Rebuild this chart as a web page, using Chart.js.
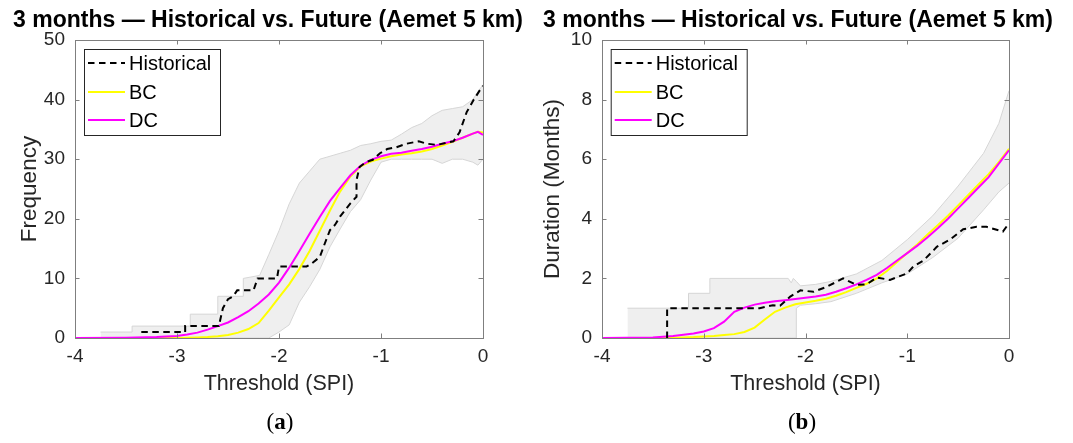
<!DOCTYPE html>
<html>
<head>
<meta charset="utf-8">
<script src="https://cdn.jsdelivr.net/npm/chart.js@4.4.1/dist/chart.umd.min.js"></script>
<style>
  body { margin: 0; background: #fff; width: 1073px; height: 443px; overflow: hidden; position: relative; }
  canvas { position: absolute; top: 0; }
  #chartA { left: 0; }
  #chartB { left: 536px; }
</style>
</head>
<body>
<canvas id="chartA" width="536" height="443"></canvas>
<canvas id="chartB" width="537" height="443"></canvas>
<script>
// ---- datos panel (a): frecuencia ----
const curveXA = [-4, -3.5, -3.2, -3.0, -2.9, -2.8, -2.7, -2.6, -2.5, -2.4, -2.3, -2.2, -2.1, -2.0, -1.9, -1.8, -1.7, -1.6, -1.5, -1.4, -1.3, -1.2, -1.1, -1.0, -0.9, -0.8, -0.7, -0.6, -0.5, -0.4, -0.3, -0.2, -0.1, -0.05, 0];
const dcA = [0, 0.05, 0.15, 0.35, 0.6, 0.9, 1.4, 2.0, 2.6, 3.5, 4.5, 5.8, 7.3, 9.3, 11.8, 14.6, 17.5, 20.3, 23.0, 25.2, 27.3, 28.9, 29.9, 30.5, 30.9, 31.1, 31.4, 31.7, 32.1, 32.6, 33.0, 33.6, 34.3, 34.6, 34.1];
const bcA = [0, 0, 0, 0.02, 0.05, 0.1, 0.15, 0.3, 0.5, 0.9, 1.5, 2.5, 4.6, 6.8, 9.0, 11.6, 14.6, 18.0, 21.4, 24.6, 27.1, 28.8, 29.6, 30.1, 30.5, 30.8, 31.0, 31.3, 31.7, 32.3, 32.9, 33.6, 34.3, 34.6, 34.5];
const histXA = [-3.35, -2.92, -2.92, -2.59, -2.55, -2.5, -2.45, -2.41, -2.25, -2.21, -2.02, -2.0, -1.73, -1.68, -1.6, -1.55, -1.5, -1.45, -1.4, -1.35, -1.3, -1.24, -1.24, -1.21, -1.15, -1.08, -1.01, -0.94, -0.85, -0.75, -0.63, -0.55, -0.45, -0.35, -0.29, -0.23, -0.16, -0.09, -0.03, 0];
const histYA = [1, 1, 2, 2, 5, 6.5, 7, 8, 8, 10, 10, 12, 12, 12.5, 13.6, 15.9, 18.1, 19, 20.4, 21.5, 22.6, 23.7, 26.5, 28.7, 29.5, 29.9, 31, 31.7, 32, 32.6, 33, 32.6, 32.4, 32.8, 33, 34.5, 37.9, 40, 41.6, 42.3];
const bandXA = [-3.75, -3.44, -3.44, -2.87, -2.87, -2.6, -2.6, -2.35, -2.35, -2.19, -2.1, -2.0, -1.9, -1.8, -1.7, -1.6, -1.5, -1.4, -1.3, -1.2, -1.1, -1.0, -0.9, -0.8, -0.7, -0.6, -0.5, -0.4, -0.3, -0.2, -0.1, -0.05, 0];
const bandHiA = [1, 1, 2, 2, 4, 4, 7, 7, 10, 10.5, 14, 18, 22.5, 26, 28, 30, 30.5, 31, 31.5, 32.3, 32.6, 33, 33.2, 34.2, 35.3, 36, 37.3, 38.2, 38.5, 38.8, 40, 41.3, 42.5];
const bandLoA = [0, 0, 0, 0, 0, 0, 0, 0, 0, 0, 0, 1.0, 2.2, 6.0, 8.6, 11.5, 15.3, 18.3, 21.2, 23.2, 26.5, 29.5, 30, 30, 30, 30, 30, 29.3, 30, 30, 29.5, 29, 30];
const yTicksA = [0, 10, 20, 30, 40, 50];

// ---- datos panel (b): duración ----
const curveXB = [-4, -3.5, -3.3, -3.2, -3.1, -3.0, -2.9, -2.8, -2.7, -2.6, -2.5, -2.4, -2.3, -2.2, -2.1, -2.0, -1.9, -1.8, -1.7, -1.6, -1.5, -1.4, -1.3, -1.2, -1.1, -1.0, -0.9, -0.8, -0.7, -0.6, -0.5, -0.4, -0.3, -0.2, -0.1, 0];
const dcB = [0, 0.02, 0.07, 0.11, 0.15, 0.22, 0.33, 0.55, 0.88, 1.02, 1.12, 1.18, 1.23, 1.27, 1.31, 1.35, 1.39, 1.45, 1.55, 1.67, 1.8, 1.95, 2.12, 2.35, 2.6, 2.85, 3.1, 3.38, 3.68, 4.0, 4.35, 4.7, 5.05, 5.4, 5.85, 6.3];
const bcB = [0, 0, 0.01, 0.02, 0.03, 0.05, 0.07, 0.1, 0.13, 0.2, 0.35, 0.62, 0.88, 1.02, 1.13, 1.19, 1.25, 1.32, 1.42, 1.54, 1.68, 1.82, 2.0, 2.25, 2.55, 2.85, 3.15, 3.47, 3.78, 4.1, 4.45, 4.8, 5.15, 5.5, 5.9, 6.35];
const histXB = [-3.36, -3.36, -2.45, -2.32, -2.25, -2.15, -2.05, -1.92, -1.79, -1.63, -1.5, -1.4, -1.3, -1.17, -1.0, -0.94, -0.84, -0.74, -0.71, -0.58, -0.45, -0.32, -0.22, -0.09, -0.06, 0];
const histYB = [0, 1.0, 1.0, 1.1, 1.08, 1.39, 1.6, 1.55, 1.72, 2.0, 1.78, 1.8, 2.03, 1.95, 2.17, 2.4, 2.6, 2.95, 3.06, 3.3, 3.65, 3.73, 3.73, 3.6, 3.57, 3.85];
const bandXB = [-3.75, -3.15, -3.15, -2.94, -2.94, -2.17, -2.14, -2.12, -2.09, -2.09, -2.05, -1.9, -1.75, -1.5, -1.25, -1.0, -0.75, -0.5, -0.25, -0.1, 0];
const bandHiB = [1, 1, 1.5, 1.5, 2, 2, 1.85, 2.0, 1.9, 1.9, 1.75, 1.8, 1.9, 2.15, 2.6, 3.3, 4.1, 5.1, 6.2, 7.2, 8.3];
const bandLoB = [0, 0, 0, 0, 0, 0, 0, 0, 0, 1.0, 1.1, 1.15, 1.22, 1.5, 1.85, 2.15, 2.7, 3.35, 4.3, 4.9, 5.2];
const yTicksB = [0, 2, 4, 6, 8, 10];

const xTicks = [-4, -3, -2, -1, 0];
const chartTitle = '3 months \u2014 Historical vs. Future (Aemet 5 km)';
const SANS = '"Liberation Sans", Arial, Helvetica, sans-serif';
const SERIF = '"Liberation Serif", "Times New Roman", serif';

function pts(xs, ys) {
    return xs.map((x, i) => ({ x: x, y: ys[i] }));
}

// Dibuja caja, marcas internas, título, leyenda y etiqueta del panel
const marcoPlugin = {
    id: 'marco',
    afterDatasetsDraw(chart, args, opts) {
        const { ctx, chartArea: a, scales } = chart;
        ctx.save();

        // marcas hacia dentro
        ctx.strokeStyle = '#7f7f7f';
        ctx.lineWidth = 1;
        const tl = 4.5;
        ctx.beginPath();
        scales.x.ticks.forEach(t => {
            const px = Math.round(scales.x.getPixelForValue(t.value)) + 0.5;
            ctx.moveTo(px, a.bottom); ctx.lineTo(px, a.bottom - tl);
            ctx.moveTo(px, a.top); ctx.lineTo(px, a.top + tl);
        });
        scales.y.ticks.forEach(t => {
            const py = Math.round(scales.y.getPixelForValue(t.value)) + 0.5;
            ctx.moveTo(a.left, py); ctx.lineTo(a.left + tl, py);
            ctx.moveTo(a.right, py); ctx.lineTo(a.right - tl, py);
        });
        ctx.stroke();
        ctx.strokeRect(a.left + 0.5, a.top + 0.5, a.right - a.left, a.bottom - a.top);

        // título
        ctx.fillStyle = '#000';
        ctx.font = 'bold 23px ' + SANS;
        ctx.textAlign = 'center';
        ctx.textBaseline = 'middle';
        ctx.fillText(opts.title, opts.titleX, 21);

        // leyenda
        const items = chart.data.datasets.filter(d => !d.isBand);
        const bx = a.left + opts.legendDx, by = a.top + 9, bw = 136, bh = 86;
        ctx.fillStyle = '#fff';
        ctx.fillRect(bx, by, bw, bh);
        ctx.strokeStyle = '#262626';
        ctx.strokeRect(bx + 0.5, by + 0.5, bw, bh);
        const rows = [14, 43, 71];
        ctx.font = '20px ' + SANS;
        ctx.textAlign = 'left';
        items.forEach((d, i) => {
            const y = by + rows[i];
            ctx.strokeStyle = d.borderColor;
            ctx.lineWidth = d.borderWidth;
            ctx.setLineDash(d.borderDash || []);
            ctx.beginPath();
            ctx.moveTo(bx + 4, y); ctx.lineTo(bx + 41, y);
            ctx.stroke();
            ctx.setLineDash([]);
            ctx.fillStyle = '#000';
            ctx.fillText(d.label, bx + 45, y + 1);
        });

        // etiqueta (a)/(b)
        const y = 423;
        ctx.font = '23px ' + SERIF;
        const wOpen = ctx.measureText('(').width;
        const wClose = ctx.measureText(')').width;
        ctx.font = 'bold 23px ' + SERIF;
        const wMid = ctx.measureText(opts.tag).width;
        let x = opts.tagX - (wOpen + wMid + wClose) / 2;
        ctx.fillStyle = '#000';
        ctx.font = '23px ' + SERIF;
        ctx.fillText('(', x, y);
        ctx.font = 'bold 23px ' + SERIF;
        ctx.fillText(opts.tag, x + wOpen, y);
        ctx.font = '23px ' + SERIF;
        ctx.fillText(')', x + wOpen + wMid, y);

        ctx.restore();
    }
};

function crearPanel(canvasId, cfg) {
    const datasets = [
        { label: 'upper', isBand: true, data: pts(cfg.bandX, cfg.bandHi), borderColor: '#d6d6d6', borderWidth: 1, backgroundColor: '#efefef', fill: '+1', pointRadius: 0, order: 10 },
        { label: 'lower', isBand: true, data: pts(cfg.bandX, cfg.bandLo), borderColor: '#d6d6d6', borderWidth: 1, fill: false, pointRadius: 0, order: 9 },
        { label: 'Historical', data: pts(cfg.histX, cfg.histY), borderColor: '#000000', borderWidth: 2, borderDash: [6.5, 4.5], fill: false, pointRadius: 0, order: 1, clip: 4 },
        { label: 'BC', data: pts(cfg.curveX, cfg.bc), borderColor: '#ffff00', borderWidth: 2, fill: false, pointRadius: 0, order: 3, clip: 4 },
        { label: 'DC', data: pts(cfg.curveX, cfg.dc), borderColor: '#ff00ff', borderWidth: 2, fill: false, pointRadius: 0, order: 2, clip: 4 }
    ];

    new Chart(document.getElementById(canvasId), {
        type: 'line',
        data: { datasets },
        options: {
            responsive: false,
            animation: false,
            devicePixelRatio: 1,
            layout: { padding: { top: 40, right: cfg.padRight, left: 0, bottom: 0 } },
            elements: { line: { tension: 0 } },
            plugins: {
                legend: { display: false },
                tooltip: { enabled: false },
                marco: { title: chartTitle, titleX: cfg.titleX, legendDx: cfg.legendDx, tag: cfg.tag, tagX: cfg.tagX }
            },
            scales: {
                x: {
                    type: 'linear', min: -4, max: 0,
                    afterBuildTicks: s => { s.ticks = xTicks.map(v => ({ value: v })); },
                    ticks: { color: '#262626', font: { family: SANS, size: 19 }, padding: 7 },
                    grid: { display: false, drawTicks: false },
                    border: { display: false },
                    title: { display: true, text: 'Threshold (SPI)', color: '#262626', font: { family: SANS, size: 21.5 }, padding: { top: 0, bottom: 46 } },
                    afterFit: s => { s.height = 105; }
                },
                y: {
                    type: 'linear', min: 0, max: cfg.yMax,
                    afterBuildTicks: s => { s.ticks = cfg.yTicks.map(v => ({ value: v })); },
                    ticks: { color: '#262626', font: { family: SANS, size: 19 }, padding: 10 },
                    grid: { display: false, drawTicks: false },
                    border: { display: false },
                    title: { display: true, text: cfg.yTitle, color: '#262626', font: { family: SANS, size: 22.5 }, padding: { top: cfg.yTitlePad, bottom: 0 } },
                    afterFit: s => { s.width = cfg.yAxisW; }
                }
            }
        },
        plugins: [marcoPlugin]
    });
}

crearPanel('chartA', {
    curveX: curveXA, dc: dcA, bc: bcA, histX: histXA, histY: histYA,
    bandX: bandXA, bandHi: bandHiA, bandLo: bandLoA,
    yMax: 50, yTicks: yTicksA, yTitle: 'Frequency', yAxisW: 75, yTitlePad: 16.5,
    padRight: 53, titleX: 268, legendDx: 9, tag: 'a', tagX: 280
});

crearPanel('chartB', {
    curveX: curveXB, dc: dcB, bc: bcB, histX: histXB, histY: histYB,
    bandX: bandXB, bandHi: bandHiB, bandLo: bandLoB,
    yMax: 10, yTicks: yTicksB, yTitle: 'Duration (Months)', yAxisW: 66, yTitlePad: 3.5,
    padRight: 64, titleX: 262, legendDx: 8.7, tag: 'b', tagX: 266
});
</script>
</body>
</html>
